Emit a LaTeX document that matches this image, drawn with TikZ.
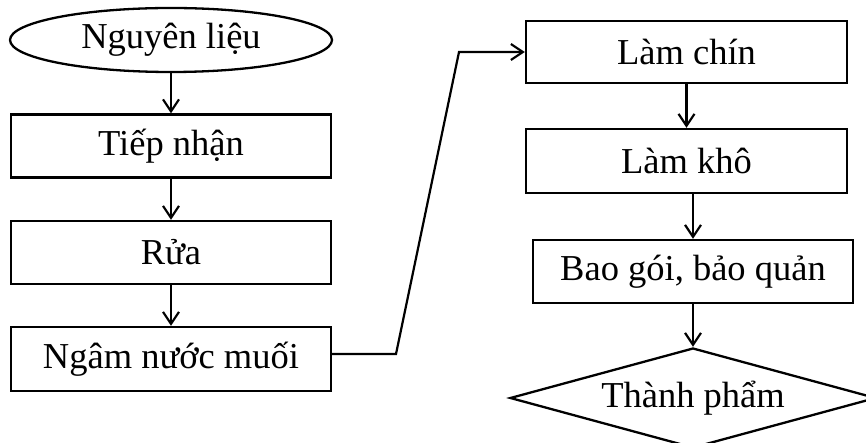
\documentclass[tikz,border=0pt]{standalone}
\usepackage{fontspec}
\setmainfont{Liberation Serif}
\usetikzlibrary{shapes.geometric,arrows.meta}
\begin{document}
\begin{tikzpicture}[x=1pt,y=1pt,
  every node/.style={font=\fontsize{36.5}{40}\selectfont, inner sep=0pt},
  stepbox/.style={draw, line width=2.3pt, rectangle, minimum width=320pt, minimum height=63pt},
  flow/.style={line width=2.2pt, -{Straight Barb[length=12pt,width=16pt,line width=2.2pt]}}]
  \useasboundingbox (0,0) rectangle (866,-443);

  % left column
  \node[draw, line width=2.3pt, ellipse, minimum width=322pt, minimum height=64pt] (nl) at (171,-40) {Nguyên liệu};
  \node[stepbox] (tn) at (171,-146) {Tiếp nhận};
  \node[stepbox] (rua) at (171,-252.5) {Rửa};
  \node[stepbox, minimum height=64pt] (ngam) at (171,-359) {Ngâm nước muối};

  % right column
  \node[stepbox, minimum width=321pt, minimum height=62pt] (lc) at (686.5,-52) {Làm chín};
  \node[stepbox, minimum width=321pt, minimum height=64pt] (lk) at (686.5,-161) {Làm khô};
  \node[stepbox] (bg) at (693,-271.5) {Bao gói, bảo quản};
  \node[draw, line width=2.3pt, diamond, aspect=3.66, minimum width=366pt, minimum height=100pt] (tp) at (693,-398) {Thành phẩm};

  % connectors
  \draw[flow] (nl.south) -- (tn.north);
  \draw[flow] (tn.south) -- (rua.north);
  \draw[flow] (rua.south) -- (ngam.north);
  \coordinate (k1) at (396,-354);
  \coordinate (k2) at (459,-52);
  \draw[flow, line join=miter] ([yshift=5pt]ngam.east) -- (k1) -- (k2) -- (lc.west);
  \draw[flow] (lc.south) -- (lk.north);
  \draw[flow] ([xshift=6.5pt]lk.south) -- (bg.north);
  \draw[flow] (bg.south) -- (tp.north);
\end{tikzpicture}
\end{document}
